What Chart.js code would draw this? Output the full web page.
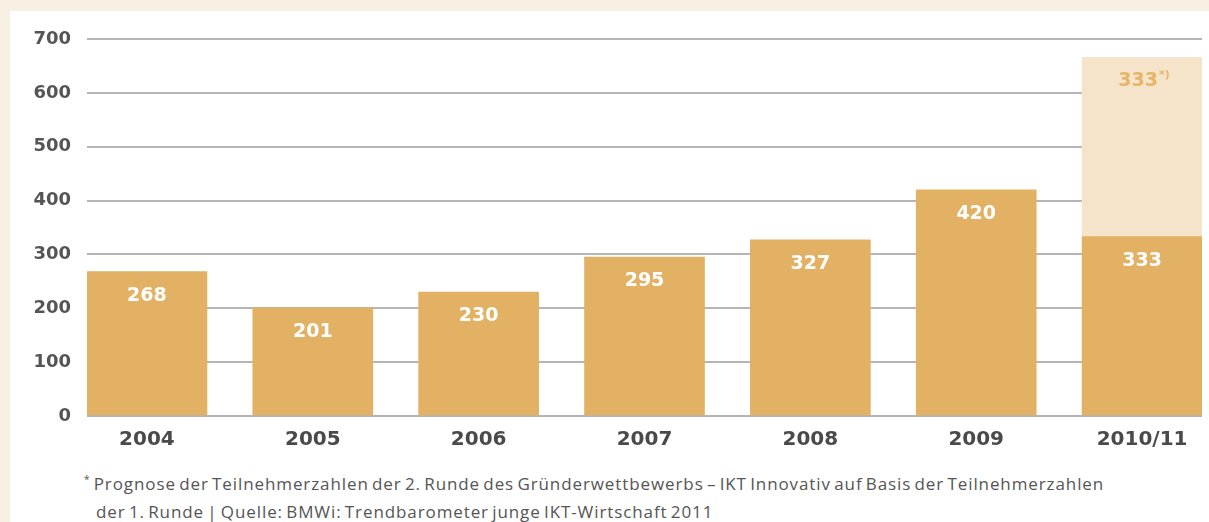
<!DOCTYPE html>
<html>
<head>
<meta charset="utf-8">
<script src="https://cdn.jsdelivr.net/npm/chart.js@4.4.1/dist/chart.umd.min.js"></script>
<style>
    html, body { margin: 0; padding: 0; }
    body { width: 1209px; height: 522px; background: #f8f0e2; position: relative; overflow: hidden; }
    #panel { position: absolute; left: 10px; top: 11px; right: 0; bottom: 0; background: #ffffff; }
    #wrap { position: absolute; left: 0; top: 0; width: 1209px; height: 460px; }
    .note { position: absolute; font-family: 'Open Sans', sans-serif; font-size: 17px; color: #555; white-space: nowrap; letter-spacing: 0.9px; word-spacing: -2px; }
    .note sup { font-size: 10px; }
</style>
</head>
<body>
<div id="panel"></div>
<div id="wrap"><canvas id="barChart"></canvas></div>
<div class="note" style="left:84px; top:472px;"><sup>*</sup> Prognose der Teilnehmerzahlen der 2. Runde des Gründerwettbewerbs – IKT Innovativ auf Basis der Teilnehmerzahlen</div>
<div class="note" style="left:96px; top:500px;">der 1. Runde | Quelle: BMWi: Trendbarometer junge IKT-Wirtschaft 2011</div>
<script>
// Teilnehmerzahlen pro Jahr
const years = ['2004', '2005', '2006', '2007', '2008', '2009', '2010/11'];
const participants = [268, 201, 230, 295, 327, 420, 333];
const forecast = [null, null, null, null, null, null, 333];
const yTicks = [0, 100, 200, 300, 400, 500, 600, 700];

const solidColor = '#e3b163';
const lightColor = '#f5e4c9';

// value labels inside the bars
const valueLabels = {
    id: 'valueLabels',
    afterDatasetsDraw(chart) {
        const ctx = chart.ctx;
        ctx.save();
        ctx.textAlign = 'center';
        ctx.textBaseline = 'middle';
        chart.data.datasets.forEach((ds, di) => {
            const meta = chart.getDatasetMeta(di);
            meta.data.forEach((bar, i) => {
                const v = ds.data[i].y;
                if (v == null) return;
                const y = bar.y + 24;
                ctx.font = 'bold 19px "DejaVu Sans", sans-serif';
                if (di === 0) {
                    ctx.fillStyle = '#ffffff';
                    ctx.fillText(String(v), bar.x, y);
                } else {
                    ctx.fillStyle = '#e8b466';
                    const w = ctx.measureText(String(v)).width;
                    ctx.fillText(String(v), bar.x - 4, y);
                    ctx.font = 'bold 11px "DejaVu Sans", sans-serif';
                    ctx.textAlign = 'left';
                    ctx.fillText('*)', bar.x - 4 + w / 2 + 1, y - 6);
                    ctx.textAlign = 'center';
                }
            });
        });
        ctx.restore();
    }
};

new Chart(document.getElementById('barChart'), {
    type: 'bar',
    data: {
        datasets: [{
            data: participants.map((v, i) => ({ x: i, y: v })),
            backgroundColor: solidColor,
            barThickness: 120
        }, {
            data: forecast.map((v, i) => ({ x: i, y: v })),
            backgroundColor: lightColor,
            barThickness: 120
        }]
    },
    options: {
        responsive: true,
        maintainAspectRatio: false,
        animation: false,
        layout: { padding: { left: 0, top: 39, right: 7, bottom: 0 } },
        plugins: { legend: { display: false }, tooltip: { enabled: false } },
        scales: {
            x: {
                type: 'linear',
                stacked: true,
                offset: false,
                min: -0.3614,
                max: 6.3614,
                afterBuildTicks: (axis) => { axis.ticks = years.map((_, i) => ({ value: i })); },
                afterFit: (axis) => { axis.height = 44; },
                grid: { display: false, offset: false },
                border: { display: false },
                ticks: {
                    padding: 4,
                    color: '#4a4a4a',
                    font: { family: 'DejaVu Sans', size: 20, weight: 'bold' },
                    callback: (v) => years[v]
                }
            },
            y: {
                stacked: true,
                min: 0,
                max: 700,
                afterBuildTicks: (axis) => { axis.ticks = yTicks.map(v => ({ value: v })); },
                afterFit: (axis) => { axis.width = 87; },
                grid: { color: '#b5b5b5', lineWidth: 2, drawTicks: false },
                border: { display: false },
                ticks: {
                    padding: 16,
                    color: '#555555',
                    font: { family: 'DejaVu Sans', size: 18, weight: 'bold' }
                }
            }
        }
    },
    plugins: [valueLabels]
});
</script>
</body>
</html>
